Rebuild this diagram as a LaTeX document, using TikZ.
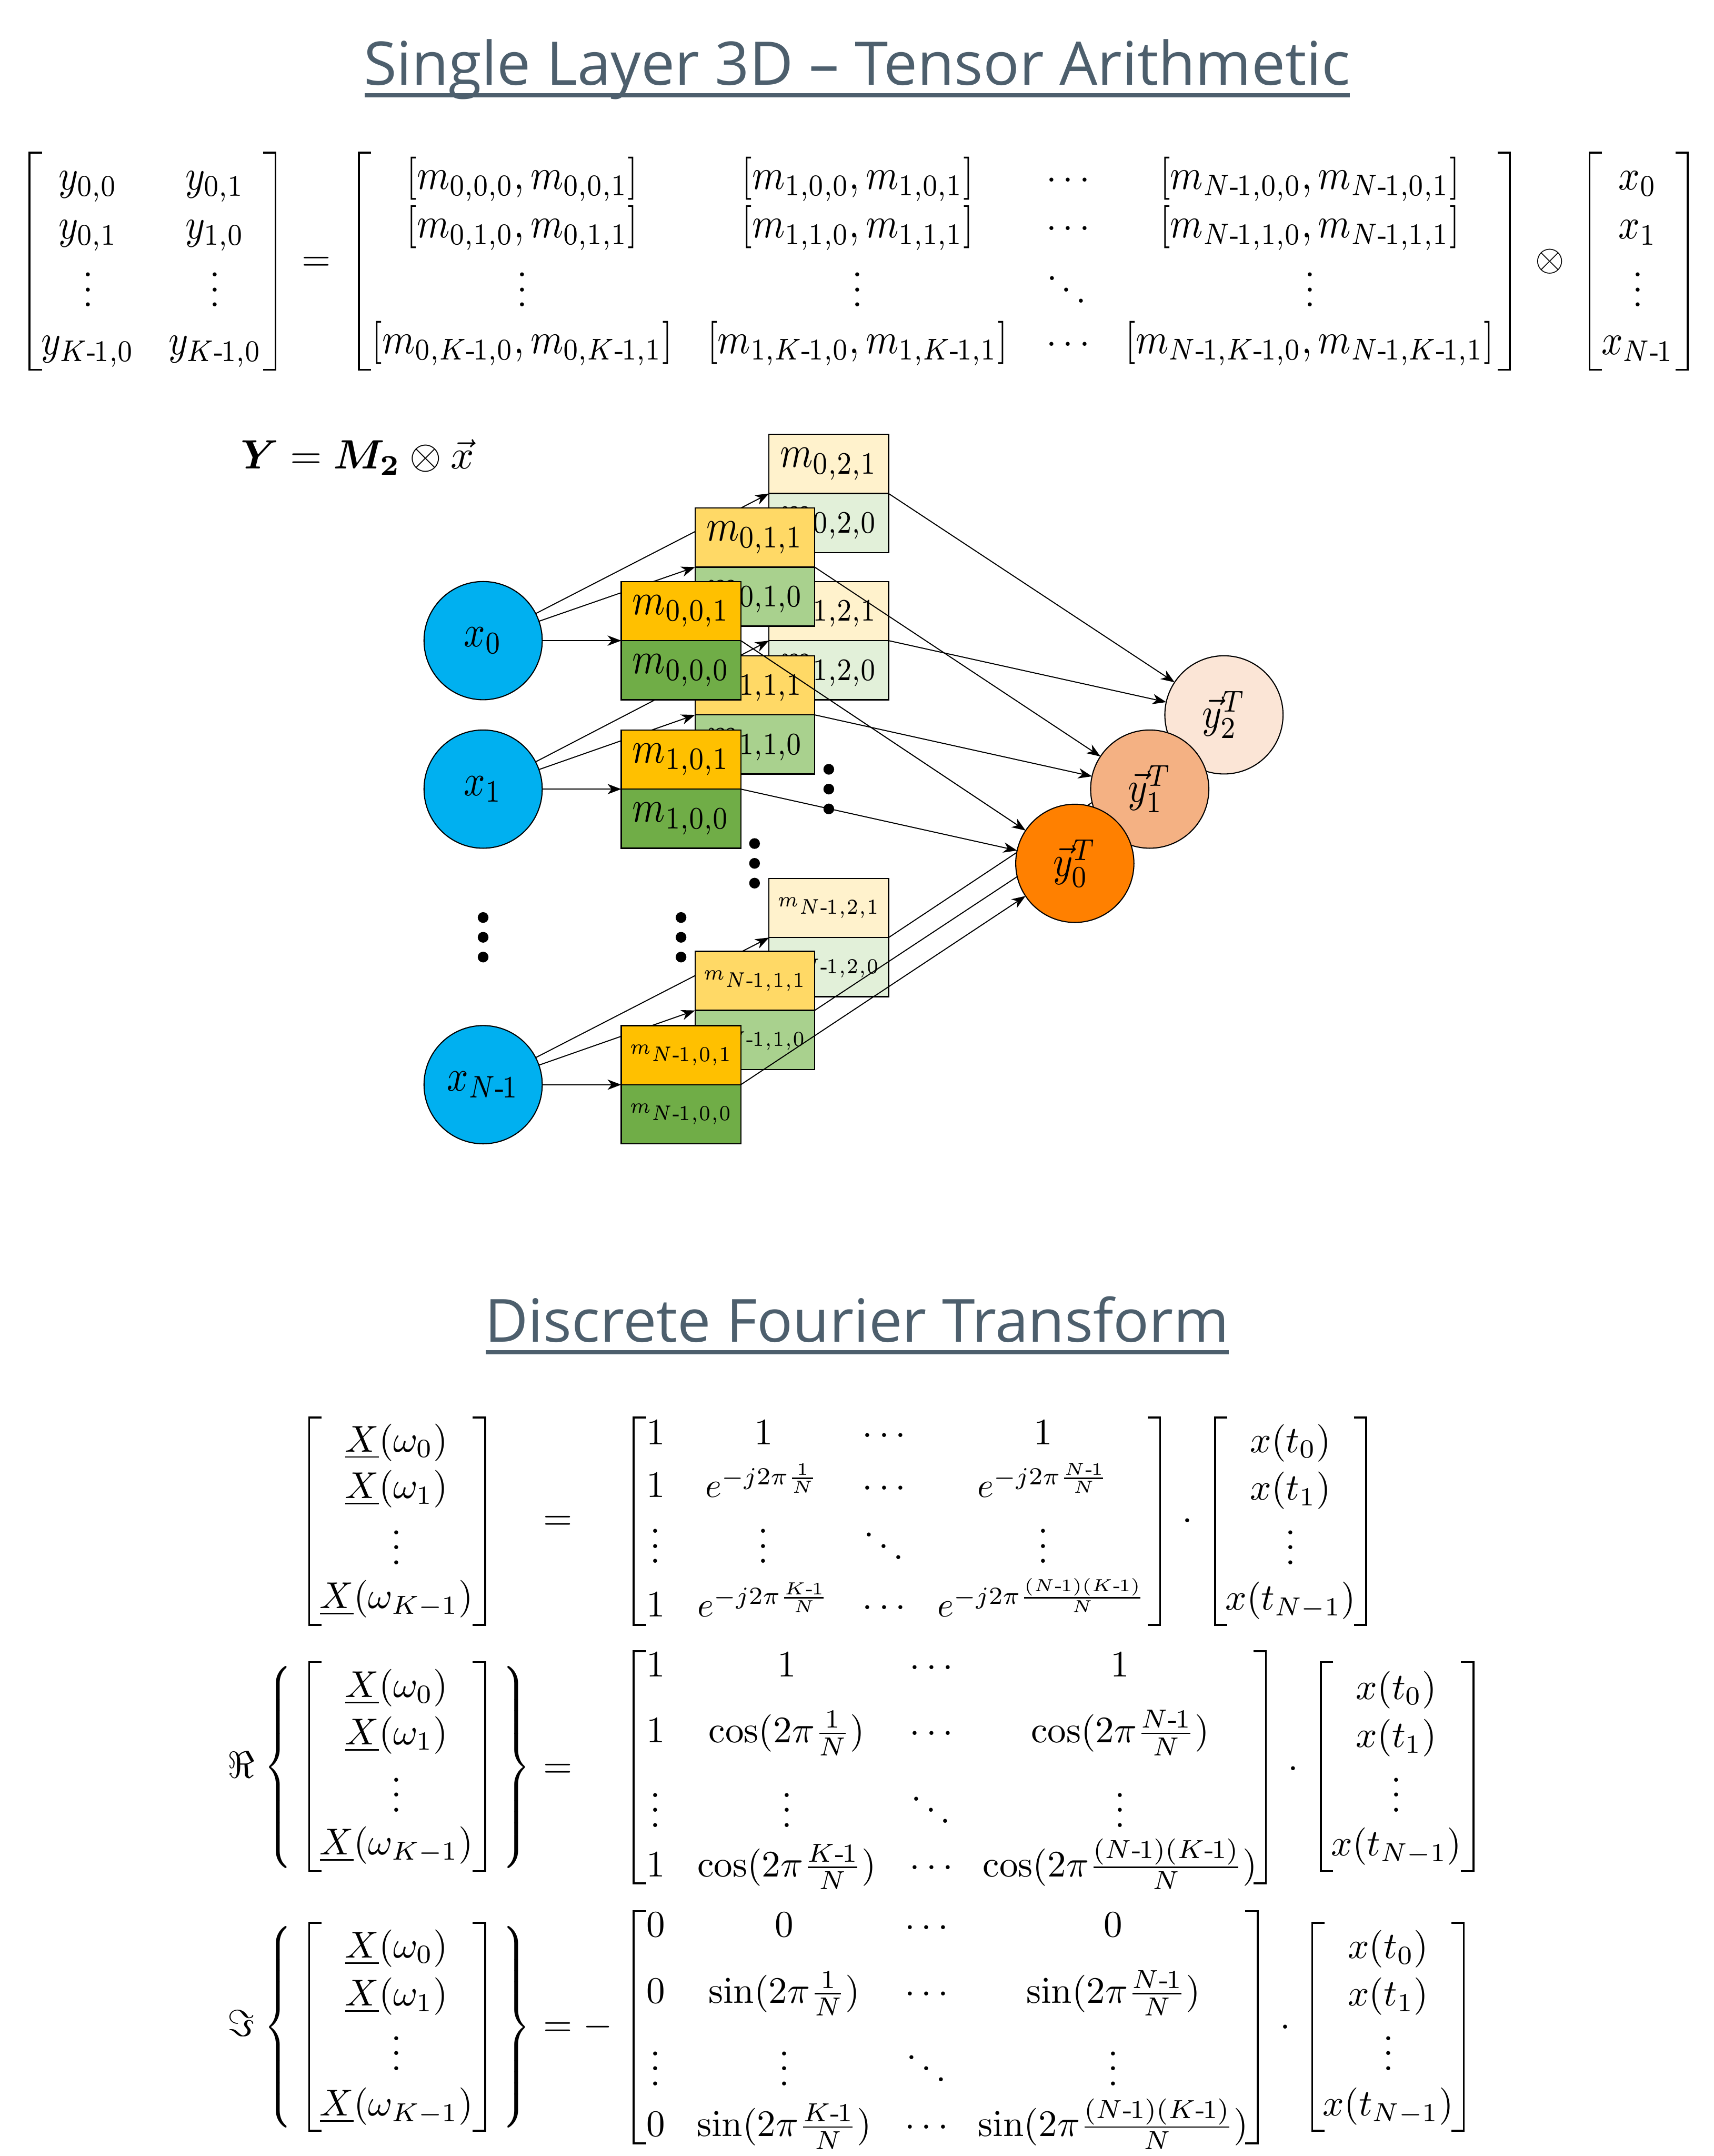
\documentclass[tikz,border=0pt]{standalone}
\usepackage{amsmath}
\usepackage[no-math]{fontspec}
\newfontfamily\titlefont{Open Sans}
\usetikzlibrary{arrows.meta}
\pgfdeclarelayer{front}
\pgfsetlayers{main,front}
\definecolor{titlec}{HTML}{4D5F6D}
\definecolor{xblue}{HTML}{00B0F0}
\definecolor{ctop}{HTML}{FFC000}
\definecolor{cbot}{HTML}{70AD47}
\definecolor{btop}{HTML}{FFD966}
\definecolor{bbot}{HTML}{A9D18E}
\definecolor{atop}{HTML}{FFF2CC}
\definecolor{abot}{HTML}{E2F0D9}
\definecolor{yzero}{HTML}{FF8000}
\definecolor{yone}{HTML}{F4B183}
\definecolor{ytwo}{HTML}{FBE5D6}
\tikzset{
  ent/.style={anchor=base,inner sep=0pt,outer sep=0pt,scale=2.72},
  brk/.style={line width=1.4pt,black,miter limit=10},
  tbox/.style={draw=black,line width=.9pt,minimum width=87pt,minimum height=43pt,inner sep=0pt,outer sep=0pt},
  circ/.style={circle,draw=black,line width=.8pt,minimum size=86pt,inner sep=0pt,outer sep=0pt},
  arr/.style={-{Stealth[length=10pt,width=7.5pt,inset=3pt]},line width=.75pt,black},
  bdot/.style={circle,fill=black,minimum size=7.8pt,inner sep=0pt,outer sep=0pt},
  ttl/.style={anchor=base,inner sep=0pt,text=titlec},
}
\newcount\entc
\newcommand\ent[3]{\global\advance\entc by 1 \node[ent] (ent\the\entc) at (#1,#2) {$#3$};}
\newcommand\entt[3]{\global\advance\entc by 1 \node[ent,yscale=1.15] (ent\the\entc) at (#1,#2) {$#3$};}
\newcommand\ents[4]{\global\advance\entc by 1 \node[ent,scale=#1] (ent\the\entc) at (#2,#3) {$#4$};}
\newcommand\brL[3]{\draw[brk] (#1+9,#2) -- (#1,#2) -- (#1,#3) -- (#1+9,#3);}
\newcommand\brR[3]{\draw[brk] (#1-9,#2) -- (#1,#2) -- (#1,#3) -- (#1-9,#3);}
\newcommand\mybox[5]{\node[tbox,fill=#4] (#1) at (#2,#3) {#5};}
\newcommand\nl[1]{\scalebox{2.72}[3.25]{#1}}
\newcommand\mm[1]{\nl{$m_{#1}$}}
\newcommand\tm[1]{\scalebox{2.58}[3.1]{\tiny$m_{\Nm,#1}$}}
\newcommand\bdots[3]{\node[bdot] (#1a) at (#2,#3-14.4) {};\node[bdot] (#1b) at (#2,#3) {};\node[bdot] (#1c) at (#2,#3+14.4) {};}
\newcommand\Xvec[4]{%
  \ent{288.5}{#1}{\underline{X}(\omega_0)}
  \ent{288.5}{#2}{\underline{X}(\omega_1)}
  \ent{288.5}{#3}{\vdots}
  \ent{288.5}{#4}{\underline{X}(\omega_{K-1})}}
\newcommand\xvec[5]{%
  \ent{#1}{#2}{x(t_0)}
  \ent{#1}{#3}{x(t_1)}
  \ent{#1}{#4}{\vdots}
  \ent{#1}{#5}{x(t_{N-1})}}
\newcommand\bigbrace[4]{\global\advance\entc by 1 \node[ent,anchor=center,xscale=.85] (ent\the\entc) at (#1,#2) {$\left#3\rule[-26.5pt]{0pt}{58pt}\right#4$};}
\newcommand\Nm{N\text{-}\mkern-1.5mu 1}
\newcommand\Km{K\text{-}\mkern-1.5mu 1}
\begin{document}
\begin{tikzpicture}[x=1pt,y=-1pt]
\useasboundingbox (0,0) rectangle (1247,1568.3);
% titles
\node[ttl,font=\titlefont\fontsize{43.75}{50}\selectfont] (title1) at (623.5,62) {Single Layer 3D – Tensor Arithmetic};
\fill[titlec] (265.5,67.7) rectangle (982,70.9);
\node[ttl,font=\titlefont\fontsize{43.3}{50}\selectfont] (title2) at (623.5,976) {Discrete Fourier Transform};
\fill[titlec] (353.5,982) rectangle (894,985);
% top equation
\brL{21.5}{111}{269}\brR{200.5}{111}{269}
\entt{64}{138}{y_{0,0}}\entt{156.5}{138}{y_{0,1}}
\entt{64}{173.5}{y_{0,1}}\entt{156.5}{173.5}{y_{1,0}}
\ent{64}{223}{\vdots}\ent{156.5}{223}{\vdots}
\entt{64}{258}{y_{\Km,0}}\entt{156.5}{258}{y_{\Km,0}}
\ent{230}{197}{=}
\brL{261}{111}{269}\brR{1098.5}{111}{269}
\entt{380}{137.5}{[m_{0,0,0},m_{0,0,1}]}
\entt{624}{137.5}{[m_{1,0,0},m_{1,0,1}]}
\ent{779.5}{137.5}{\cdots}
\entt{953}{137.5}{[m_{\Nm,0,0},m_{\Nm,0,1}]}
\entt{380}{173}{[m_{0,1,0},m_{0,1,1}]}
\entt{624}{173}{[m_{1,1,0},m_{1,1,1}]}
\ent{779.5}{173}{\cdots}
\entt{953}{173}{[m_{\Nm,1,0},m_{\Nm,1,1}]}
\ent{380}{223}{\vdots}\ent{624}{223}{\vdots}\ent{776}{223}{\ddots}\ent{953}{223}{\vdots}
\entt{380}{257}{[m_{0,\Km,0},m_{0,\Km,1}]}
\entt{624}{257}{[m_{1,\Km,0},m_{1,\Km,1}]}
\ent{779.5}{257}{\cdots}
\entt{953}{257}{[m_{\Nm,\Km,0},m_{\Nm,\Km,1}]}
\ent{1127.5}{197}{\otimes}
\brL{1156.5}{111}{269}\brR{1228}{111}{269}
\entt{1191.5}{138}{x_0}\entt{1191.5}{173.5}{x_1}\ent{1191.5}{223}{\vdots}\entt{1191.5}{258}{x_{\Nm}}
% network
\node[ent,anchor=base west,scale=1.096] (eqn) at (175,341) {$\boldsymbol{Y}=\boldsymbol{M_2}\otimes\vec{x}$};
\node[circ,fill=xblue] (x0) at (351.5,466) {\nl{$x_0$}};
\node[circ,fill=xblue] (x1) at (351.5,574) {\nl{$x_1$}};
\node[circ,fill=xblue] (xn) at (351.5,789) {\nl{$x_{\Nm}$}};
\begin{pgfonlayer}{front}
\node[circ,fill=ytwo] (y2) at (890.5,520) {\scalebox{2.72}[3.15]{$\vec{y}_2^{T}$}};
\node[circ,fill=yone] (y1) at (836.5,574) {\scalebox{2.72}[3.15]{$\vec{y}_1^{T}$}};
\node[circ,fill=yzero] (y0) at (782,628) {\scalebox{2.72}[3.15]{$\vec{y}_0^{T}$}};
\end{pgfonlayer}
% back column
\mybox{a0b}{603}{380.5}{abot}{\mm{0,2,0}}
\mybox{a0t}{603}{337.5}{atop}{\mm{0,2,1}}
\mybox{a1b}{603}{487.5}{abot}{\mm{1,2,0}}
\mybox{a1t}{603}{444.5}{atop}{\mm{1,2,1}}
\mybox{anb}{603}{703.5}{abot}{\tm{2,0}}
\mybox{ant}{603}{660.5}{atop}{\tm{2,1}}
\draw[arr] (x0) -- (a0t.south west);
\draw[arr] (x1) -- (a1t.south west);
\draw[arr] (xn) -- (ant.south west);
% middle column
\mybox{b0b}{549.2}{434}{bbot}{\mm{0,1,0}}
\mybox{b0t}{549.2}{391}{btop}{\mm{0,1,1}}
\mybox{b1b}{549.2}{541.5}{bbot}{\mm{1,1,0}}
\mybox{b1t}{549.2}{498.5}{btop}{\mm{1,1,1}}
\mybox{bnb}{549.2}{756.5}{bbot}{\tm{1,0}}
\mybox{bnt}{549.2}{713.5}{btop}{\tm{1,1}}
\draw[arr] (x0) -- (b0t.south west);
\draw[arr] (x1) -- (b1t.south west);
\draw[arr] (xn) -- (bnt.south west);
% front column
\mybox{c0b}{495.5}{487.5}{cbot}{\mm{0,0,0}}
\mybox{c0t}{495.5}{444.5}{ctop}{\mm{0,0,1}}
\mybox{c1b}{495.5}{595.5}{cbot}{\mm{1,0,0}}
\mybox{c1t}{495.5}{552.5}{ctop}{\mm{1,0,1}}
\mybox{cnb}{495.5}{810.5}{cbot}{\tm{0,0}}
\mybox{cnt}{495.5}{767.5}{ctop}{\tm{0,1}}
\draw[arr] (x0) -- (c0t.south west);
\draw[arr] (x1) -- (c1t.south west);
\draw[arr] (xn) -- (cnt.south west);
% ellipses
\bdots{da}{603}{574}
\bdots{db}{549}{628}
\bdots{dc}{495.5}{681.8}
\bdots{dd}{351.5}{681.8}
% outputs
\draw[arr] (a0t.south east) -- (y2);
\draw[arr] (a1t.south east) -- (y2);
\draw[arr] (ant.south east) -- (y2);
\draw[arr] (b0t.south east) -- (y1);
\draw[arr] (b1t.south east) -- (y1);
\draw[arr] (bnt.south east) -- (y1);
\draw[arr] (c0t.south east) -- (y0);
\draw[arr] (c1t.south east) -- (y0);
\draw[arr] (cnt.south east) -- (y0);
% DFT
\brL{225}{1031}{1182}\brR{353}{1031}{1182}
\Xvec{1056}{1090}{1138}{1170}
\ent{406}{1113}{=}
\brL{461}{1031}{1182}\brR{844}{1031}{1182}
\ent{477}{1051}{1}\ent{555.5}{1051}{1}\ent{645.5}{1051}{\cdots}\ent{759}{1051}{1}
\ent{477}{1089}{1}\ents{.9375}{554.5}{1089}{e^{-j2\pi\frac{1}{N}}}\ent{645.5}{1089}{\cdots}\ents{.9375}{759}{1089}{e^{-j2\pi\frac{\Nm}{N}}}
\ent{477}{1137}{\vdots}\ent{555.5}{1137}{\vdots}\ent{643}{1137}{\ddots}\ent{759}{1137}{\vdots}
\ent{477}{1176}{1}\ents{.9375}{555.5}{1176}{e^{-j2\pi\frac{\Km}{N}}}\ent{645.5}{1176}{\cdots}\ents{.9375}{758}{1176}{e^{-j2\pi\frac{(\Nm)(\Km)}{N}}}
\ent{864}{1113}{\cdot}
\brL{884}{1031}{1182}\brR{994}{1031}{1182}
\xvec{939}{1056.5}{1091}{1138}{1171}
% Re
\ent{175.6}{1293}{\Re}
\bigbrace{203.5}{1285.5}{\{}{.}
\brL{225}{1209}{1361}\brR{353}{1209}{1361}
\bigbrace{374.5}{1285.5}{.}{\}}
\Xvec{1234.6}{1269}{1318}{1349}
\ent{406}{1293}{=}
\brL{461}{1201}{1370}\brR{921}{1201}{1370}
\ent{477}{1219.7}{1}\ent{572.4}{1219.7}{1}\ent{680}{1219.7}{\cdots}\ent{815}{1219.7}{1}
\ent{477}{1267.6}{1}\ent{572.4}{1267.6}{\cos(2\pi\frac{1}{N})}\ent{680}{1267.6}{\cdots}\ent{815}{1267.6}{\cos(2\pi\frac{\Nm}{N})}
\ent{477}{1329}{\vdots}\ent{572.4}{1329}{\vdots}\ent{677.4}{1329}{\ddots}\ent{815}{1329}{\vdots}
\ent{477}{1365}{1}\ent{572.4}{1365}{\cos(2\pi\frac{\Km}{N})}\ent{680}{1365}{\cdots}\ent{815}{1365}{\cos(2\pi\frac{(\Nm)(\Km)}{N})}
\ent{941}{1293}{\cdot}
\brL{961}{1209}{1361}\brR{1072}{1209}{1361}
\xvec{1016}{1236}{1271}{1318}{1350}
% Im
\ent{175.6}{1481}{\Im}
\bigbrace{203.5}{1474.5}{\{}{.}
\brL{225}{1398.6}{1550}\brR{353}{1398.6}{1550}
\bigbrace{374.5}{1474.5}{.}{\}}
\Xvec{1424}{1459}{1506}{1539}
\ent{406}{1481}{=}\ent{435}{1481}{-}
\brL{461}{1390}{1559}\brR{915}{1390}{1559}
\ent{477}{1408.7}{0}\ent{570.6}{1408.7}{0}\ent{676.5}{1408.7}{\cdots}\ent{810}{1408.7}{0}
\ent{477}{1457}{0}\ent{570.6}{1457}{\sin(2\pi\frac{1}{N})}\ent{676.5}{1457}{\cdots}\ent{810}{1457}{\sin(2\pi\frac{\Nm}{N})}
\ent{477}{1517}{\vdots}\ent{570.6}{1517}{\vdots}\ent{674}{1517}{\ddots}\ent{810}{1517}{\vdots}
\ent{477}{1554}{0}\ent{570.6}{1554}{\sin(2\pi\frac{\Km}{N})}\ent{676.5}{1554}{\cdots}\ent{810}{1554}{\sin(2\pi\frac{(\Nm)(\Km)}{N})}
\ent{935}{1481}{\cdot}
\brL{954.7}{1398.6}{1550}\brR{1065}{1398.6}{1550}
\xvec{1010}{1424.6}{1459}{1506}{1539}
\end{tikzpicture}
\end{document}
